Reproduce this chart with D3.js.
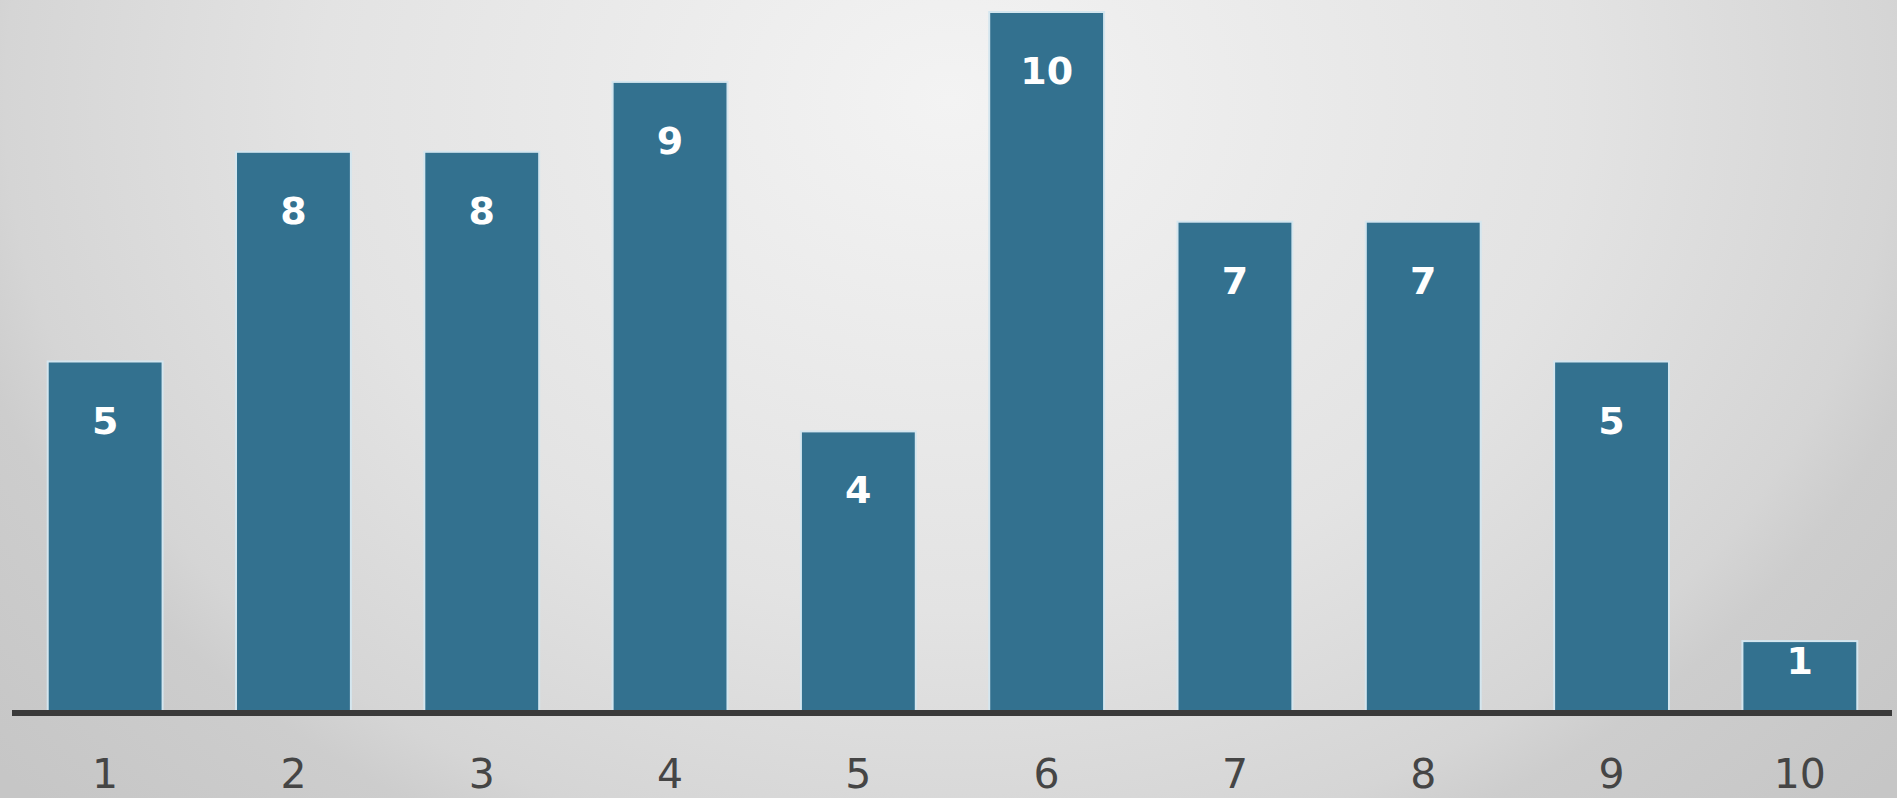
<!DOCTYPE html>
<html>
<head>
<meta charset="utf-8">
<script src="https://cdn.jsdelivr.net/npm/d3@7"></script>
<style>
html, body { margin: 0; padding: 0; overflow: hidden; }
body { width: 1897px; height: 798px; }
svg { display: block; }
</style>
</head>
<body>
<script>
const categories = ["1", "2", "3", "4", "5", "6", "7", "8", "9", "10"];
const values = [5, 8, 8, 9, 4, 10, 7, 7, 5, 1];

const W = 1897, H = 798;
const svg = d3.select("body").append("svg").attr("width", W).attr("height", H);

const defs = svg.append("defs");
const grad = defs.append("radialGradient").attr("id", "bg")
  .attr("gradientUnits", "userSpaceOnUse")
  .attr("cx", 0).attr("cy", 0).attr("r", 1)
  .attr("gradientTransform", "translate(950,100) scale(1260,1020)");
[[0, "#f3f3f3"], [0.5, "#e3e3e3"], [0.75, "#d5d5d5"], [0.81, "#cdcdcd"], [1, "#c6c6c6"]]
  .forEach(([o, c]) => grad.append("stop").attr("offset", o).attr("stop-color", c));
svg.append("rect").attr("width", W).attr("height", H).attr("fill", "url(#bg)");

const baseline = 711;
const x = d3.scaleBand().domain(categories).range([11, 1894]).paddingInner(0.39).paddingOuter(0.195);
const y = d3.scaleLinear().domain([0, 10]).range([baseline, 12]);

const g = svg.append("g");
g.selectAll("rect.bar").data(values).join("rect")
  .attr("class", "bar")
  .attr("x", (d, i) => x(categories[i]))
  .attr("y", d => y(d))
  .attr("width", x.bandwidth())
  .attr("height", d => baseline - y(d))
  .attr("fill", "#33718f")
  .attr("stroke", "#d4e6ef")
  .attr("stroke-width", 2);

g.selectAll("text.val").data(values).join("text")
  .attr("class", "val")
  .attr("x", (d, i) => x(categories[i]) + x.bandwidth() / 2)
  .attr("y", d => {
    const h = baseline - y(d);
    return h < 100 ? y(d) + 33 : y(d) + 72;
  })
  .attr("text-anchor", "middle")
  .attr("font-family", "DejaVu Sans")
  .attr("font-weight", "bold")
  .attr("font-size", 38)
  .attr("fill", "#ffffff")
  .text(d => d);

// axis
const axis = d3.axisBottom(x).tickSize(0).tickPadding(0);
const ax = svg.append("g").attr("transform", `translate(0,${baseline + 2})`).call(axis);
ax.select(".domain").attr("stroke", "#3a3a3a").attr("stroke-width", 6)
  .attr("d", `M12,0H1892`);
ax.selectAll(".tick text")
  .attr("dy", null)
  .attr("y", 75)
  .attr("font-family", "DejaVu Sans")
  .attr("font-size", 41)
  .attr("fill", "#454545");
</script>
</body>
</html>
